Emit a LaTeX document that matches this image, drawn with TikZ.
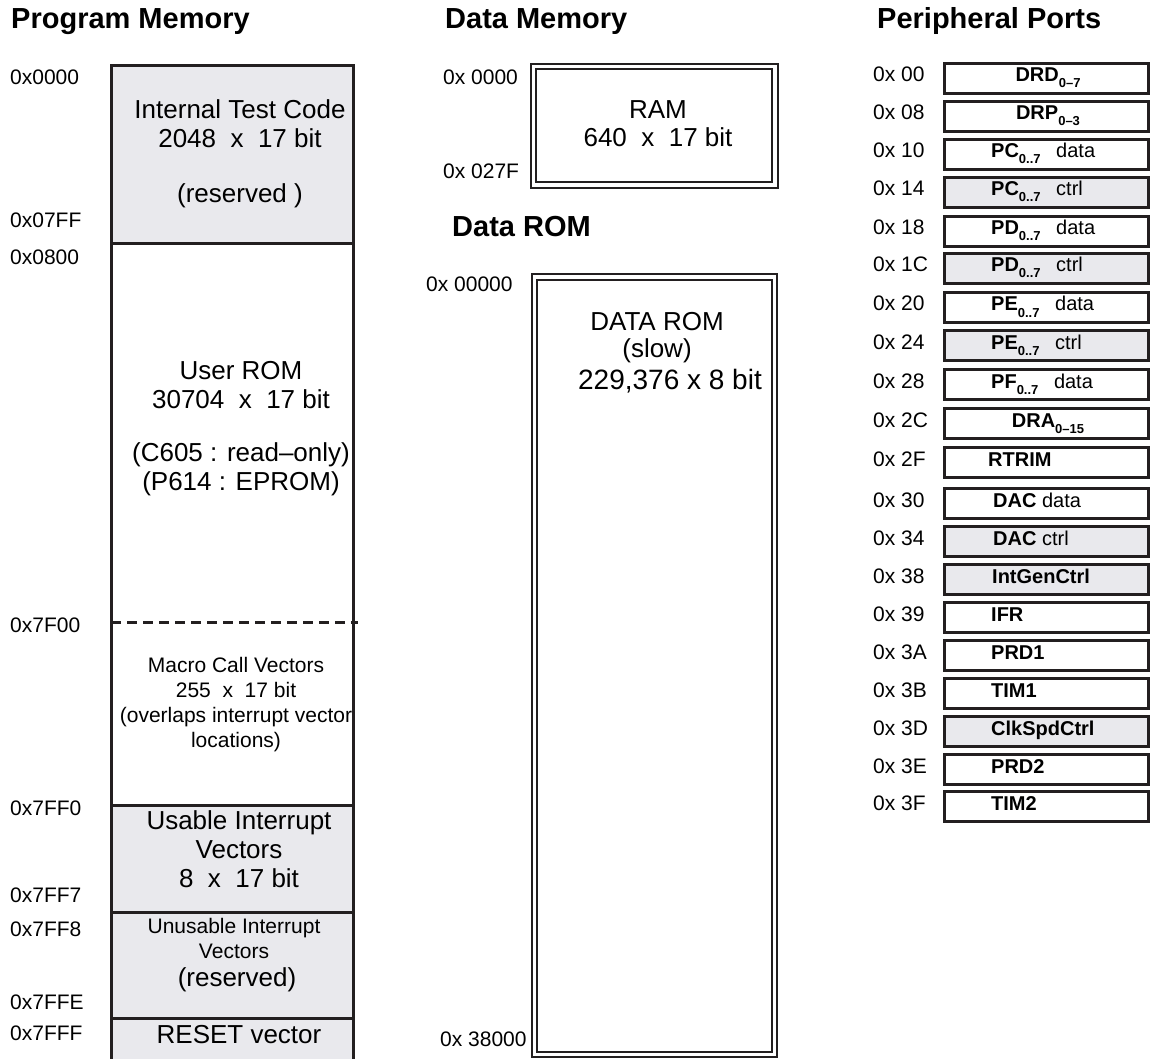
\documentclass[tikz,border=0pt]{standalone}
\usepackage{fontspec}
\setmainfont{Liberation Sans}
\usetikzlibrary{positioning}
\definecolor{memgray}{RGB}{233,233,237}
\definecolor{memline}{RGB}{35,31,32}

\newcommand{\titlefont}{\fontsize{29}{32}\selectfont\bfseries}
\newcommand{\bodyfont}{\fontsize{26}{28.7}\selectfont}
\newcommand{\smallbody}{\fontsize{21}{24.7}\selectfont}
\newcommand{\addrfont}{\fontsize{21}{24}\selectfont}
\newcommand{\regfont}{\fontsize{20}{22}\selectfont}
\newcommand{\regname}[2]{\textbf{#1}\raisebox{-6pt}{\fontsize{13}{13}\selectfont\bfseries #2}}

\begin{document}
\begin{tikzpicture}[
  x=1pt, y=-1pt,
  title/.style={anchor=base west, inner sep=0, font=\titlefont},
  addr/.style={anchor=base west, inner sep=0, font=\addrfont},
  memtext/.style={anchor=base, inner sep=0, align=center, font=\bodyfont},
  memsmall/.style={anchor=base, inner sep=0, align=center, font=\smallbody},
  membox/.style={draw=memline, line width=3pt},
  romframe/.style={draw=memline, line width=2pt},
  port/.style={draw=memline, line width=2.7pt, minimum width=204pt,
               minimum height=30pt, inner sep=0, anchor=north west},
  portgray/.style={port, fill=memgray},
  regtext/.style={inner sep=0, font=\regfont},
]
\useasboundingbox (0,0) rectangle (1151,1059);

% Titles
\node[title] (tprog) at (11,29) {Program Memory};
\node[title] (tdata) at (445,29) {Data Memory};
\node[title] (tport) at (877,29) {Peripheral Ports};
\node[title] (trom) at (452,237) {Data ROM};

% Program memory column
\fill[memgray] (111,66) rectangle (353,244);
\fill[memgray] (111,805) rectangle (353,1065);
\draw[membox] (111,1065) -- (111,66) -- (353,66) -- (353,1065);
\foreach \y in {244,805,912,1018}
  \draw[membox] (111,\y) -- (353,\y);
\draw[membox, dash pattern=on 10pt off 6pt] (111,622) -- (358,622);

% (multi-line nodes sit on the baseline of their last line)
\node[memtext] (testcode) at (240,203)
  {Internal Test Code\\2048~ x~ 17 bit\\[27pt](reserved )};
\node[memtext] (userrom) at (241,490)
  {User ROM\\30704~ x~ 17 bit\\[24pt](C605 : read--only)\\(P614 : EPROM)};
\node[memsmall] (macro) at (236,747)
  {Macro Call Vectors\\255~ x~ 17 bit\\(overlaps interrupt vector\\locations)};
\node[memtext] (usable) at (239,887)
  {Usable Interrupt\\Vectors\\8~ x~ 17 bit};
\node[memsmall] (unusable) at (234,958) {Unusable Interrupt\\Vectors};
\node[memtext] (unres) at (237,986) {(reserved)};
\node[memtext] (reset) at (239,1043) {RESET vector};

\foreach \y/\a [count=\i] in {85/0x0000, 228/0x07FF, 265/0x0800,
    632/0x7F00, 815/0x7FF0, 902/0x7FF7, 936/0x7FF8, 1009/0x7FFE, 1040/0x7FFF}
  \node[addr] (pa\i) at (10,\y) {\a};

% Data memory: RAM and data ROM
\draw[romframe] (531,64) rectangle (778,188);
\draw[romframe] (536,69) rectangle (772,182);
\node[memtext] (ram) at (658,147) {RAM\\640~ x~ 17 bit};
\node[addr] (ra1) at (443,85) {0x 0000};
\node[addr] (ra2) at (443,179) {0x 027F};

\draw[romframe] (532,274) rectangle (777,1057);
\draw[romframe] (537,280) rectangle (772,1052);
\node[memtext, font=\fontsize{26}{27}\selectfont] (datarom) at (657,357)
  {DATA ROM\\(slow)};
\node[memtext, font=\fontsize{28}{30}\selectfont] (romsize) at (670,389)
  {229,376 x 8 bit};
\node[addr] (da1) at (426,292) {0x 00000};
\node[addr] (da2) at (440,1046) {0x 38000};

% Peripheral ports
\foreach \t/\a/\s/\x/\an/\txt [count=\i] in {
    62/0x 00/port/1048/base/{\regname{DRD}{0--7}},
    100/0x 08/port/1048/base/{\regname{DRP}{0--3}},
    138/0x 10/port/991/base west/{\regname{PC}{0..7}\enspace\ data},
    176/0x 14/portgray/991/base west/{\regname{PC}{0..7}\enspace\ ctrl},
    215/0x 18/port/991/base west/{\regname{PD}{0..7}\enspace\ data},
    252/0x 1C/portgray/991/base west/{\regname{PD}{0..7}\enspace\ ctrl},
    291/0x 20/port/991/base west/{\regname{PE}{0..7}\enspace\ data},
    329/0x 24/portgray/991/base west/{\regname{PE}{0..7}\enspace\ ctrl},
    368/0x 28/port/991/base west/{\regname{PF}{0..7}\enspace\ data},
    407/0x 2C/port/1048/base/{\regname{DRA}{0--15}},
    446/0x 2F/port/988/base west/{\textbf{RTRIM}},
    487/0x 30/port/993/base west/{\textbf{DAC} data},
    525/0x 34/portgray/993/base west/{\textbf{DAC} ctrl},
    563/0x 38/portgray/992/base west/{\textbf{IntGenCtrl}},
    601/0x 39/port/991/base west/{\textbf{IFR}},
    639/0x 3A/port/991/base west/{\textbf{PRD1}},
    677/0x 3B/port/991/base west/{\textbf{TIM1}},
    715/0x 3D/portgray/991/base west/{\textbf{ClkSpdCtrl}},
    753/0x 3E/port/991/base west/{\textbf{PRD2}},
    790/0x 3F/port/991/base west/{\textbf{TIM2}}} {
  \node[\s] (reg\i) at (943,\t) {};
  \node[regtext, anchor=\an] (regname\i) at (\x,\t+20) {\txt};
  \node[addr] (ppa\i) at (873,\t+20) {\a};
}
\end{tikzpicture}
\end{document}
